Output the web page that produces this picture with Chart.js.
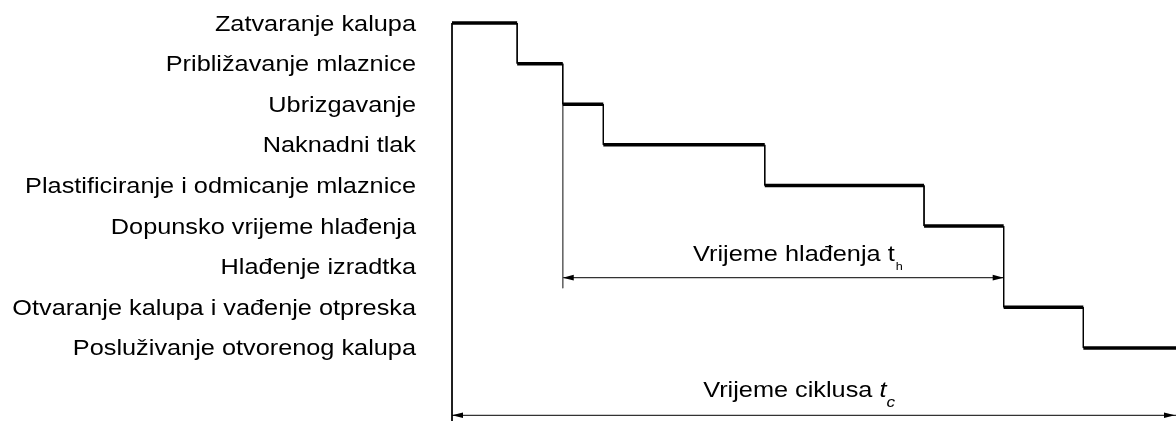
<!DOCTYPE html>
<html>
<head>
<meta charset="utf-8">
<script src="https://cdn.jsdelivr.net/npm/chart.js@4"></script>
<style>
  html, body { margin: 0; padding: 0; background: #fff; }
  #wrap { width: 1176px; height: 421px; }
</style>
</head>
<body>
<div id="wrap"><canvas id="cycleChart" width="1176" height="421"></canvas></div>
<script>
// faze ciklusa injekcijskog prešanja (vrijeme u % ciklusa)
const phases = [
  "Zatvaranje kalupa",
  "Približavanje mlaznice",
  "Ubrizgavanje",
  "Naknadni tlak",
  "Plastificiranje i odmicanje mlaznice",
  "Dopunsko vrijeme hlađenja",
  "Hlađenje izradtka",
  "Otvaranje kalupa i vađenje otpreska",
  "Posluživanje otvorenog kalupa"
];
const phaseStart = [0, 9, 15.3, 20.9, 43.2, 65.2, 15.3, 76.2, 87.2];
const phaseEnd = [9, 15.3, 20.9, 43.2, 65.2, 76.2, 76.2, 87.2, 100];
const coolingRow = 6;
const cycleStart = 0;
const cycleEnd = 100;

const Y_MIN = -0.567;
const Y_MAX = 9.8;
const COOL_DIM_Y = 6.27;
const CYCLE_DIM_Y = 9.66;
const STRETCH = 1.15;
const FONT = '"Liberation Sans", Arial, sans-serif';

function seg(x1, y1, x2, y2, width, color) {
  return {
    data: [{ x: x1, y: y1 }, { x: x2, y: y2 }],
    borderColor: color,
    borderWidth: width,
    pointRadius: 0,
    fill: false,
    tension: 0,
    clip: false
  };
}

const datasets = [];
const barRows = phases.map((p, i) => i).filter((i) => i !== coolingRow);

// debele linije faza
barRows.forEach((i) => {
  datasets.push(seg(phaseStart[i], i, phaseEnd[i], i, 3.5, "#000"));
});
// spojnice između faza
for (let k = 0; k < barRows.length - 1; k++) {
  const a = barRows[k];
  const b = barRows[k + 1];
  datasets.push(seg(phaseEnd[a], a, phaseEnd[a], b, 1, "#000"));
}
// pomoćne linije za kote
datasets.push(seg(cycleStart, 0, cycleStart, Y_MAX, 1, "#000"));
datasets.push(seg(phaseStart[coolingRow], 2, phaseStart[coolingRow], COOL_DIM_Y + 0.26, 1, "#666"));
// kotne linije
datasets.push(seg(phaseStart[coolingRow], COOL_DIM_Y, phaseEnd[coolingRow], COOL_DIM_Y, 1.2, "#333"));
datasets.push(seg(cycleStart, CYCLE_DIM_Y, cycleEnd, CYCLE_DIM_Y, 1.2, "#333"));

function stretchedText(ctx, str, x, y, font, align) {
  ctx.save();
  ctx.font = font;
  ctx.textAlign = align || "left";
  ctx.translate(x, y);
  ctx.scale(STRETCH, 1);
  ctx.fillText(str, 0, 0);
  const w = ctx.measureText(str).width * STRETCH;
  ctx.restore();
  return w;
}

function arrowHead(ctx, px, py, dir) {
  ctx.beginPath();
  ctx.moveTo(px, py);
  ctx.lineTo(px - dir * 11, py - 2.8);
  ctx.lineTo(px - dir * 11, py + 2.8);
  ctx.closePath();
  ctx.fill();
}

const annotationPlugin = {
  id: "cycleAnnotations",
  afterDraw(chart) {
    const { ctx } = chart;
    const x = chart.scales.x;
    const y = chart.scales.y;
    ctx.save();
    ctx.fillStyle = "#000";
    ctx.textBaseline = "alphabetic";

    // nazivi faza
    phases.forEach((p, i) => {
      stretchedText(ctx, p, 416, y.getPixelForValue(i) + 7.5, "22px " + FONT, "right");
    });

    // strelice
    const cy = y.getPixelForValue(COOL_DIM_Y);
    arrowHead(ctx, x.getPixelForValue(phaseStart[coolingRow]), cy, -1);
    arrowHead(ctx, x.getPixelForValue(phaseEnd[coolingRow]), cy, 1);
    const ty = y.getPixelForValue(CYCLE_DIM_Y);
    arrowHead(ctx, x.getPixelForValue(cycleStart), ty, -1);
    arrowHead(ctx, x.getPixelForValue(cycleEnd) - 1, ty, 1);

    // Vrijeme hlađenja t_h
    let tx = x.getPixelForValue(33.3);
    let w = stretchedText(ctx, "Vrijeme hlađenja t", tx, cy - 17, "22px " + FONT);
    stretchedText(ctx, "h", tx + w + 1, cy - 8, "11px " + FONT);

    // Vrijeme ciklusa t_c
    tx = x.getPixelForValue(34.7);
    w = stretchedText(ctx, "Vrijeme ciklusa ", tx, ty - 18, "22px " + FONT);
    const w2 = stretchedText(ctx, "t", tx + w, ty - 18, "italic 22px " + FONT);
    stretchedText(ctx, "c", tx + w + w2, ty - 8, "italic 15px " + FONT);

    ctx.restore();
  }
};

new Chart(document.getElementById("cycleChart"), {
  type: "line",
  data: { datasets },
  options: {
    responsive: false,
    animation: false,
    events: [],
    layout: { padding: { left: 452, right: 0, top: 0, bottom: 0 } },
    plugins: {
      legend: { display: false },
      tooltip: { enabled: false }
    },
    scales: {
      x: { type: "linear", min: 0, max: 100, display: false },
      y: { type: "linear", min: Y_MIN, max: Y_MAX, reverse: true, display: false }
    }
  },
  plugins: [annotationPlugin]
});
</script>
</body>
</html>
